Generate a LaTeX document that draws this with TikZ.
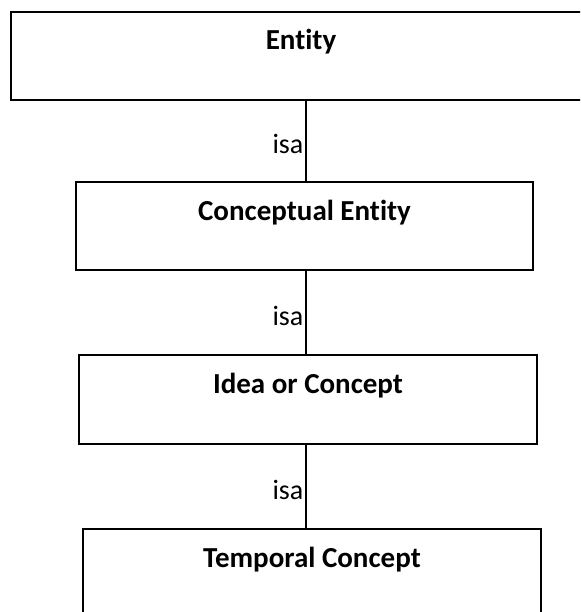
\documentclass[tikz,border=0pt]{standalone}
\usepackage{fontspec}
\setmainfont{Carlito}[Ligatures=NoCommon]
\begin{document}
\begin{tikzpicture}[x=1pt,y=-1pt,
  concept/.style={draw, line width=1.6pt, inner xsep=0pt, inner ysep=0pt,
    font=\fontsize{29}{33}\selectfont\bfseries, text height=38pt, text depth=50pt},
  isaline/.style={line width=1.3pt},
  isalabel/.style={font=\fontsize{28}{32}\selectfont, anchor=east, inner sep=2pt, yshift=-3pt}]
\useasboundingbox (0,0) rectangle (580,612);
\clip (0,0) rectangle (580,612);

% class hierarchy, top to bottom
\node[concept, minimum width=580pt] (e) at (301,56) {Entity};
\node[concept, minimum width=457pt] (ce) at (304.5,226) {Conceptual Entity};
\node[concept, minimum width=458pt, text depth=51pt] (ic) at (308,399.5) {Idea or Concept};
\node[concept, minimum width=458pt] (tc) at (312,573) {Temporal Concept};

% vertical spine shared by the isa links
\coordinate (spine) at (306,0);

\draw[isaline] (e.south -| spine) -- node[isalabel] {isa} (ce.north -| spine);
\draw[isaline] (ce.south -| spine) -- node[isalabel] {isa} (ic.north -| spine);
\draw[isaline] (ic.south -| spine) -- node[isalabel] {isa} (tc.north -| spine);
\end{tikzpicture}
\end{document}
